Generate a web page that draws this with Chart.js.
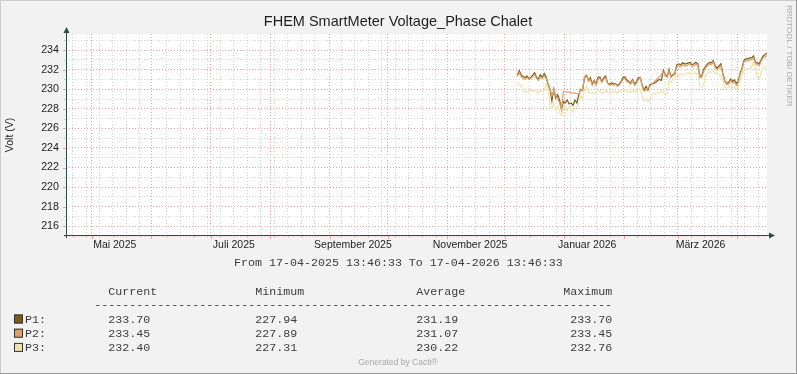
<!DOCTYPE html>
<html>
<head>
<meta charset="utf-8">
<script src="https://cdn.jsdelivr.net/npm/chart.js@4.4.1/dist/chart.umd.min.js"></script>
<style>
  html, body { margin: 0; padding: 0; background: #F2F2F2; }
  canvas { display: block; }
</style>
</head>
<body>
<canvas id="c" width="797" height="374"></canvas>
<script>
// x values: days since 17-04-2025 13:46:33 (one sample per day, data starts early Dec 2025)
var days = [235,236,237,238,239,240,241,242,243,244,
            245,246,247,248,249,250,251,252,253,254,
            255,256,257,258,259,260,261,262,263,264,
            265,266,267,268,269,270,271,272,273,274,
            275,276,277,278,279,280,281,282,283,284,
            285,286,287,288,289,290,291,292,293,294,
            295,296,297,298,299,300,301,302,303,304,
            305,306,307,308,309,310,311,312,313,314,
            315,316,317,318,319,320,321,322,323,324,
            325,326,327,328,329,330,331,332,333,334,
            335,336,337,338,339,340,341,342,343,344,
            345,346,347,348,349,350,351,352,353,354,
            355,356,357,358,359,360,361,362,363,364,
            365];

var p1 = [231.45,231.9,231.45,231.3,231.2,231.35,231.1,231.2,231.45,231.7,
          231.2,231.05,231.5,231.2,231.6,231.25,230.5,230.0,228.8,230.0,
          229.1,229.45,228.9,227.94,228.75,228.6,228.9,228.5,228.6,228.35,
          228.9,228.6,229.45,230.0,229.9,231.2,231.45,230.9,231.2,230.55,
          230.9,230.55,231.2,231.25,230.8,231.2,231.35,230.65,230.5,230.65,
          230.55,230.55,230.4,230.5,230.8,231.2,231.25,230.95,230.8,230.65,
          231.0,230.55,230.75,231.2,231.2,230.45,229.9,230.3,229.9,230.45,
          230.55,230.6,230.7,230.9,231.0,230.9,231.95,231.5,231.3,232.05,
          231.3,231.5,231.65,232.5,232.6,232.5,232.7,232.6,232.6,232.7,
          232.75,232.5,232.6,232.75,232.6,231.3,231.4,232.0,232.35,232.6,
          232.75,232.7,232.95,232.4,232.15,232.4,232.6,231.65,230.9,230.6,
          230.7,231.05,230.8,230.95,230.6,230.8,231.65,232.15,232.95,233.1,
          233.1,233.2,233.2,233.4,232.75,232.7,232.6,233.05,233.4,233.55,
          233.7];

var p2 = [231.3,231.7,231.3,231.1,231.0,231.2,231.0,231.1,231.3,231.5,
          231.1,230.9,231.3,231.1,231.4,231.1,230.6,230.1,229.3,229.9,
          229.3,229.0,228.6,227.89,229.8,229.75,229.7,229.7,229.65,229.6,
          229.6,229.55,229.5,229.9,230.0,231.3,231.5,230.8,231.0,230.4,
          230.8,230.4,231.0,231.1,230.7,231.0,231.2,230.6,230.4,230.5,
          230.4,230.5,230.3,230.4,230.7,231.0,231.1,230.8,230.7,230.5,
          230.9,230.4,230.6,231.0,231.2,230.3,229.8,229.9,230.1,230.3,
          230.5,230.7,230.9,231.1,231.3,231.5,231.8,231.4,231.2,231.9,
          231.2,231.4,231.5,232.3,232.4,232.3,232.5,232.4,232.4,232.5,
          232.6,232.3,232.4,232.6,232.4,231.2,231.2,231.8,232.2,232.4,
          232.6,232.5,232.8,232.2,232.0,232.2,232.4,231.5,230.8,230.5,
          230.5,230.9,230.6,230.8,230.4,230.6,231.5,232.0,232.8,232.9,
          232.9,233.0,233.0,233.2,232.6,232.5,232.4,232.9,233.2,233.3,
          233.45];

var p3 = [230.5,230.5,230.4,229.9,229.7,229.8,229.7,229.9,229.8,230.0,
          229.8,229.6,229.9,229.7,229.9,230.6,229.9,228.3,228.0,228.6,
          227.9,228.3,227.6,227.31,228.0,228.1,227.8,228.2,227.9,227.7,
          228.0,228.2,228.6,229.3,229.2,230.0,230.3,229.8,229.6,229.7,
          229.5,229.7,229.8,229.9,229.6,229.7,229.9,229.7,229.6,229.8,
          229.7,229.8,229.6,229.8,229.9,230.0,229.9,229.7,229.8,229.7,
          229.9,229.7,229.8,230.1,230.0,229.3,228.8,229.0,228.7,228.9,
          229.4,229.6,229.5,229.7,229.6,229.9,229.7,229.4,229.6,230.9,
          230.7,231.0,231.1,231.5,231.4,231.5,231.6,231.5,231.6,231.7,
          231.6,231.5,231.7,231.6,231.5,230.3,230.2,230.5,231.4,231.7,
          231.8,231.7,231.9,231.6,231.7,231.5,231.4,230.9,230.2,230.1,
          230.2,230.3,230.1,230.2,230.0,230.2,231.0,231.4,231.9,232.0,
          232.1,232.2,232.3,232.76,232.2,231.2,231.0,231.8,232.2,232.3,
          232.4];

// month starts (day offsets) -> major grid
var monthStarts = [13.43,44.43,75.43,106.43,137.43,167.43,198.43,228.43,259.43,290.43,318.43,349.43];
// first monday 21-04-2025 -> minor grid every week
var firstWeek = 3.43;
var xLabels = ["Mai 2025","Juli 2025","September 2025","November 2025","Januar 2026","März 2026"];
var xLabelDays = [25.4,87.4,149.4,210.4,271.4,330.4];

var yTicks = [215,216,217,218,219,220,221,222,223,224,225,226,227,228,229,230,231,232,233,234,235];

var legendRows = [
  ["P1:", "233.70", "227.94", "231.19", "233.70"],
  ["P2:", "233.45", "227.89", "231.07", "233.45"],
  ["P3:", "232.40", "227.31", "230.22", "232.76"]
];
var colors = ["#7B5B16", "#E0A06A", "#EDE4AC"];

var MAJOR = "#EBA3A3", MINOR = "#D2D2D2", AXIS = "#2C4D43";
var SANS = '"Liberation Sans", Arial, sans-serif';
var MONO = '"Liberation Mono", "DejaVu Sans Mono", monospace';

function series(vals) {
  return days.map(function(d, i) { return {x: d, y: vals[i]}; });
}

var rrdPlugin = {
  id: "rrd",
  beforeDraw: function(chart) {
    var ctx = chart.ctx, a = chart.chartArea;
    ctx.save();
    ctx.fillStyle = "#F2F2F2";
    ctx.fillRect(0, 0, chart.width, chart.height);
    // frame
    ctx.fillStyle = "#CBCBCB";
    ctx.fillRect(0, 0, chart.width, 1);
    ctx.fillRect(0, 0, 1, chart.height);
    ctx.fillStyle = "#999999";
    ctx.fillRect(0, chart.height - 1, chart.width, 1);
    ctx.fillRect(chart.width - 1, 0, 1, chart.height);
    ctx.fillStyle = "#FFFFFF";
    ctx.fillRect(a.left, a.top, a.right - a.left, a.bottom - a.top);
    ctx.restore();
  },
  afterDraw: function(chart) {
    var ctx = chart.ctx, a = chart.chartArea;
    var xs = chart.scales.x, ys = chart.scales.y;
    ctx.save();

    // small tick marks
    xs.ticks.forEach(function(t) {
      if (t.kind === "label") return;
      var px = Math.round(xs.getPixelForValue(t.value)) + 0.5;
      ctx.strokeStyle = t.kind === "major" ? MAJOR : MINOR;
      ctx.beginPath(); ctx.moveTo(px, a.bottom); ctx.lineTo(px, a.bottom + (t.kind === "major" ? 3 : 2)); ctx.stroke();
    });
    ys.ticks.forEach(function(t) {
      var py = Math.round(ys.getPixelForValue(t.value)) + 0.5;
      var major = t.value % 2 === 0;
      ctx.strokeStyle = major ? MAJOR : MINOR;
      ctx.beginPath(); ctx.moveTo(a.left - (major ? 3 : 2), py); ctx.lineTo(a.left, py); ctx.stroke();
    });

    // axes with arrows
    ctx.strokeStyle = AXIS; ctx.fillStyle = AXIS; ctx.lineWidth = 1;
    var ax = Math.round(a.left) + 0.5, ay = Math.round(a.bottom) - 0.5;
    ctx.beginPath();
    ctx.moveTo(ax, a.bottom + 2); ctx.lineTo(ax, a.top - 3);
    ctx.moveTo(a.left - 2, ay); ctx.lineTo(a.right + 3, ay);
    ctx.stroke();
    ctx.beginPath();
    ctx.moveTo(ax, a.top - 7); ctx.lineTo(ax - 3, a.top - 1); ctx.lineTo(ax + 3, a.top - 1); ctx.closePath(); ctx.fill();
    ctx.beginPath();
    ctx.moveTo(a.right + 8, ay); ctx.lineTo(a.right + 2, ay - 3); ctx.lineTo(a.right + 2, ay + 3); ctx.closePath(); ctx.fill();

    // title
    ctx.fillStyle = "#1E1E1E";
    ctx.textAlign = "center"; ctx.textBaseline = "middle";
    ctx.font = "14.5px " + SANS;
    ctx.fillText("FHEM SmartMeter Voltage_Phase Chalet", 398, 22);

    // y axis title
    ctx.save();
    ctx.translate(10.5, 135); ctx.rotate(-Math.PI / 2);
    ctx.font = "10.5px " + SANS;
    ctx.fillText("Volt (V)", 0, 0);
    ctx.restore();

    // right side watermark
    ctx.save();
    ctx.translate(789, 5); ctx.rotate(Math.PI / 2);
    ctx.textAlign = "left";
    ctx.fillStyle = "#ABABAB";
    ctx.font = "8px " + SANS;
    ctx.fillText("RRDTOOL / TOBI OETIKER", 0, 0);
    ctx.restore();

    // period line
    ctx.fillStyle = "#3C3C3C";
    ctx.font = "11.67px " + MONO;
    ctx.textAlign = "left";
    ctx.fillText("From 17-04-2025 13:46:33 To 17-04-2026 13:46:33", 234, 263);

    // legend table
    var hx = [108.3, 255.3, 416.3, 563.3];
    var vx = [108.3, 255.3, 416.3, 570.3];
    ["Current", "Minimum", "Average", "Maximum"].forEach(function(h, i) { ctx.fillText(h, hx[i], 292); });
    ctx.fillText(new Array(75).join("-"), 94.3, 305);
    legendRows.forEach(function(r, i) {
      var y = 319.5 + i * 14.2;
      ctx.fillStyle = colors[i];
      ctx.fillRect(14, y - 5, 9, 9);
      ctx.strokeStyle = "#333";
      ctx.strokeRect(14.5, y - 4.5, 8, 8);
      ctx.fillStyle = "#3C3C3C";
      ctx.fillText(r[0], 25, y);
      for (var k = 1; k < 5; k++) ctx.fillText(r[k], vx[k - 1], y);
    });

    ctx.textAlign = "center";
    ctx.fillStyle = "#A8A8A8";
    ctx.font = "8.5px " + SANS;
    ctx.fillText("Generated by Cacti\u00AE", 398, 363);
    ctx.restore();
  }
};

function gridColor(c) {
  var t = c.tick;
  if (!t) return "rgba(0,0,0,0)";
  if (t.kind === "major") return MAJOR;
  if (t.kind === "minor") return MINOR;
  return "rgba(0,0,0,0)";
}

new Chart(document.getElementById("c"), {
  type: "line",
  data: {
    datasets: [
      // rrdtool stacks later lines on top: P3 over P2 over P1
      {label: "P1", data: series(p1), borderColor: colors[0], borderWidth: 1.2, order: 3},
      {label: "P2", data: series(p2), borderColor: colors[1], borderWidth: 1.2, order: 2},
      {label: "P3", data: series(p3), borderColor: colors[2], borderWidth: 1.2, order: 1}
    ]
  },
  options: {
    responsive: false,
    animation: false,
    devicePixelRatio: 1,
    layout: {padding: {left: 0, right: 30, top: 34, bottom: 118}},
    elements: {point: {radius: 0}, line: {tension: 0}},
    plugins: {legend: {display: false}, title: {display: false}, tooltip: {enabled: false}},
    scales: {
      x: {
        type: "linear", min: 0, max: 365,
        afterFit: function(s) { s.height = 20; },
        afterBuildTicks: function(s) {
          var t = [];
          for (var w = firstWeek; w < 365; w += 7) {
            var isMonth = monthStarts.some(function(m) { return Math.abs(m - w) < 1.5; });
            if (!isMonth) t.push({value: w, kind: "minor"});
          }
          monthStarts.forEach(function(m) { t.push({value: m, kind: "major"}); });
          xLabelDays.forEach(function(d, i) { t.push({value: d, kind: "label", text: xLabels[i]}); });
          t.sort(function(p, q) { return p.value - q.value; });
          s.ticks = t;
        },
        grid: {color: gridColor, lineWidth: 1, drawTicks: false},
        border: {display: false, dash: [1, 2]},
        ticks: {
          autoSkip: false, maxRotation: 0, padding: 3,
          color: "#1E1E1E", font: {family: SANS, size: 10.5},
          callback: function(v, i, ticks) { return ticks[i].kind === "label" ? ticks[i].text : ""; }
        }
      },
      y: {
        type: "linear", min: 215, max: 235.65,
        afterFit: function(s) { s.width = 66; },
        afterBuildTicks: function(s) { s.ticks = yTicks.map(function(v) { return {value: v}; }); },
        grid: {
          color: function(c) { return c.tick ? (c.tick.value % 2 === 0 ? MAJOR : MINOR) : "rgba(0,0,0,0)"; },
          lineWidth: 1, drawTicks: false
        },
        border: {display: false, dash: [1, 2]},
        ticks: {
          autoSkip: false, padding: 7,
          color: "#1E1E1E", font: {family: SANS, size: 10.7},
          callback: function(v) { return (v % 2 === 0 && v > 215) ? String(v) : ""; }
        }
      }
    }
  },
  plugins: [rrdPlugin]
});
</script>
</body>
</html>
